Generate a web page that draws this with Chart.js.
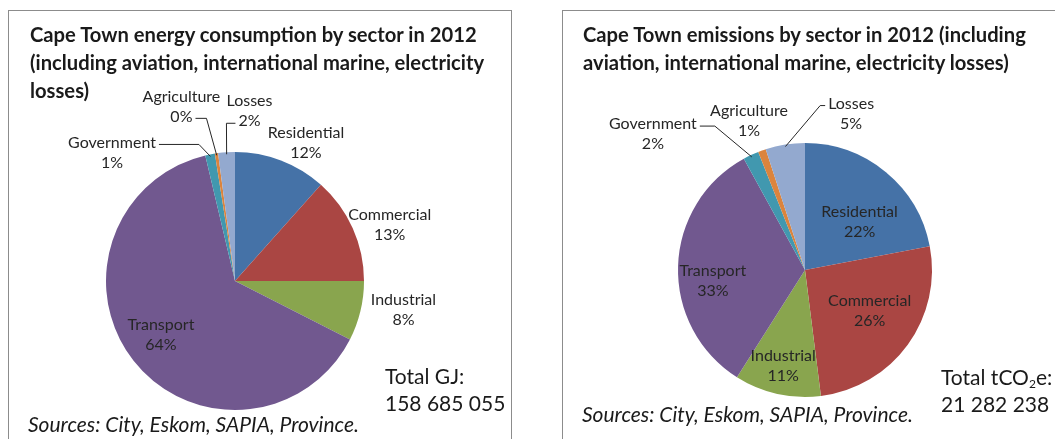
<!DOCTYPE html>
<html>
<head>
<meta charset="utf-8">
<script src="https://cdn.jsdelivr.net/npm/chart.js@4"></script>
<style>
  body { margin: 0; background: #fff; width: 1055px; height: 439px; overflow: hidden; position: relative; font-family: Lato, "Open Sans", sans-serif; color: #1a1a1a; }
  .panel { position: absolute; top: 10px; height: 440px; border: 1px solid #8c8c8c; background: #fff; }
  .panel canvas { position: absolute; left: 0; top: 0; }
  .title { position: absolute; font-weight: bold; font-size: 20.2px; line-height: 28px; white-space: nowrap; }
  .total { position: absolute; font-size: 21px; line-height: 27px; white-space: nowrap; }
  .src { position: absolute; font-style: italic; font-size: 21px; white-space: nowrap; }
  sub { font-size: 12px; vertical-align: -3px; line-height: 0; }
</style>
</head>
<body>
<div class="panel" id="p1" style="left:8px; width:502px;">
  <canvas id="energyChart" width="500" height="429"></canvas>
  <div class="title" style="left:21px; top:9px;">Cape Town energy consumption by sector in 2012<br>(including aviation, international marine, electricity<br>losses)</div>
  <div class="total" style="left:376px; top:351px;">Total GJ:<br>158 685 055</div>
  <div class="src" style="left:19px; top:400px;">Sources: City, Eskom, SAPIA, Province.</div>
</div>
<div class="panel" id="p2" style="left:562px; width:500px;">
  <canvas id="emissionsChart" width="492" height="429"></canvas>
  <div class="title" style="left:20px; top:9px;">Cape Town emissions by sector in 2012 (including<br>aviation, international marine, electricity losses)</div>
  <div class="total" style="left:378px; top:352px;">Total tCO<sub>2</sub>e:<br>21 282 238</div>
  <div class="src" style="left:19px; top:390px;">Sources: City, Eskom, SAPIA, Province.</div>
</div>
<script>
// sectors, clockwise from 12 o'clock
const sectors = ["Residential", "Commercial", "Industrial", "Transport", "Government", "Agriculture", "Losses"];
const energyShare = [11.6, 13.4, 7.5, 63.8, 1.2, 0.4, 2.1];
const emissionShare = [22, 26, 11, 33, 2, 1, 5];
const sliceColors = ["#4572A7", "#AA4643", "#89A54E", "#71588F", "#4198AF", "#DB843D", "#93A9CF"];

// where each label sits: f = fraction of radius along the slice middle, dx/dy nudge,
// leader = line from a text edge back to the slice
const energyLabels = [
  { f: 1, dx: 25, dy: -18 },
  { f: 1, dx: 37, dy: -3 },
  { f: 1, dx: 43, dy: -1 },
  { f: 0.7, dx: -3, dy: -2 },
  { f: 1, dx: -98, dy: -2, leader: { line: 0, side: "right", run: 40 } },
  { f: 1, dx: -35, dy: -47, leader: { line: 1, side: "right", run: 11 } },
  { f: 1, dx: 23, dy: -41, leader: { line: 1, side: "left", run: 9 } }
];
const emissionLabels = [
  { f: 0.6, dx: 6, dy: 11 },
  { f: 0.6, dx: 3, dy: -4 },
  { f: 0.75, dx: -1, dy: 3 },
  { f: 0.6, dx: -16, dy: 13 },
  { f: 1, dx: -98, dy: -21, leader: { line: 0, side: "right", run: 15 } },
  { f: 1, dx: -13, dy: -30 },
  { f: 1, dx: 66, dy: -31, leader: { line: 0, side: "left", run: 5 } }
];

const LINE_H = 20;

const sliceLabels = {
  id: "sliceLabels",
  afterDatasetsDraw(chart, args, opts) {
    const ctx = chart.ctx;
    const meta = chart.getDatasetMeta(0);
    const data = chart.data.datasets[0].data;
    const total = data.reduce((a, b) => a + b, 0);
    ctx.save();
    ctx.font = "16px Lato, 'Open Sans', sans-serif";
    ctx.fillStyle = "#262626";
    ctx.textAlign = "center";
    ctx.textBaseline = "middle";
    meta.data.forEach((arc, i) => {
      const spot = opts.spots[i];
      const mid = (arc.startAngle + arc.endAngle) / 2;
      const r = arc.outerRadius;
      const px = arc.x + Math.cos(mid) * r * spot.f;
      const py = arc.y + Math.sin(mid) * r * spot.f;
      const cx = px + spot.dx;
      const cy = py + spot.dy;
      const lines = [chart.data.labels[i], Math.round(data[i] / total * 100) + "%"];
      lines.forEach((t, k) => {
        ctx.fillText(t, cx, cy + (k - 0.5) * LINE_H);
      });
      if (spot.leader) {
        const L = spot.leader;
        const w = ctx.measureText(lines[L.line]).width;
        const ly = cy + (L.line - 0.5) * LINE_H + 2;
        const sgn = L.side === "right" ? 1 : -1;
        const ex = cx + sgn * (w / 2 + 3);
        const ax = arc.x + Math.cos(mid) * (r - 2);
        const ay = arc.y + Math.sin(mid) * (r - 2);
        ctx.strokeStyle = "#262626";
        ctx.lineWidth = 1;
        ctx.beginPath();
        ctx.moveTo(ex, ly);
        ctx.lineTo(ex + sgn * L.run, ly);
        ctx.lineTo(ax, ay);
        ctx.stroke();
      }
    });
    ctx.restore();
  }
};

function makePie(id, values, spots, padding) {
  return new Chart(document.getElementById(id), {
    type: "pie",
    data: {
      labels: sectors,
      datasets: [{ data: values, backgroundColor: sliceColors, borderWidth: 0 }]
    },
    options: {
      responsive: false,
      animation: false,
      devicePixelRatio: 1,
      layout: { padding: padding },
      plugins: {
        legend: { display: false },
        tooltip: { enabled: false },
        sliceLabels: { spots: spots }
      }
    },
    plugins: [sliceLabels]
  });
}

makePie("energyChart", energyShare, energyLabels, { left: 97, top: 141, right: 145, bottom: 30 });
makePie("emissionsChart", emissionShare, emissionLabels, { left: 115, top: 132, right: 123, bottom: 43 });
</script>
</body>
</html>
